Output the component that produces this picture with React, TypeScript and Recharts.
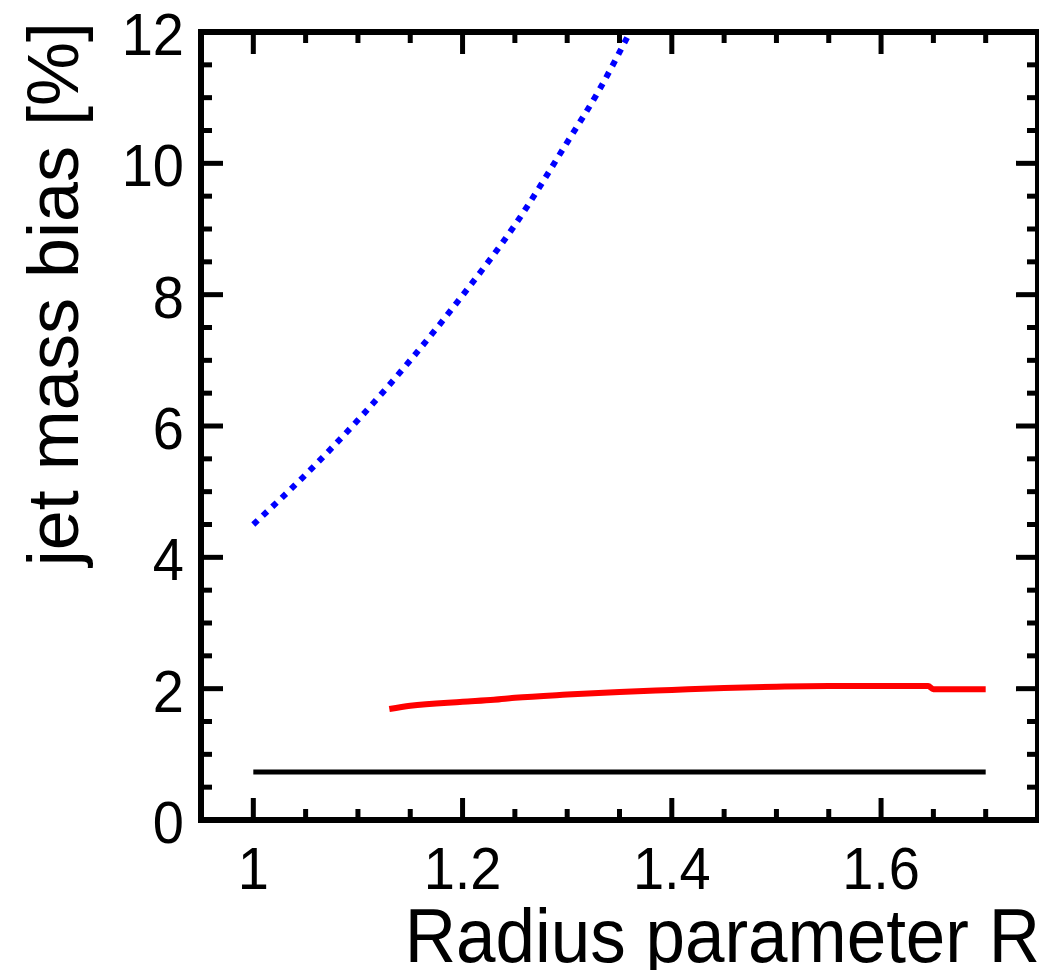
import React from 'react'
import { ComposedChart, Line, XAxis, YAxis } from 'recharts'

// Radius parameter R vs jet mass bias [%]
const blueR = [1.0, 1.05, 1.1, 1.15, 1.2, 1.25, 1.3, 1.33, 1.36]
const blueBias = [4.5, 5.26, 6.09, 7.0, 7.99, 9.06, 10.32, 11.1, 12.0]

const redR = [1.13, 1.15, 1.2, 1.23, 1.25, 1.3, 1.35, 1.4, 1.45, 1.5, 1.55, 1.6, 1.645, 1.65, 1.7]
const redBias = [1.69, 1.74, 1.8, 1.83, 1.86, 1.91, 1.95, 1.98, 2.01, 2.03, 2.04, 2.04, 2.04, 1.99, 1.99]

const blackR = [1.0, 1.7]
const blackBias = [0.73, 0.73]

const xTicks = [1, 1.05, 1.1, 1.15, 1.2, 1.25, 1.3, 1.35, 1.4, 1.45, 1.5, 1.55, 1.6, 1.65, 1.7]
const xMajor = [1, 1.2, 1.4, 1.6]
const yTicks = [0, 0.5, 1, 1.5, 2, 2.5, 3, 3.5, 4, 4.5, 5, 5.5, 6, 6.5, 7, 7.5, 8, 8.5, 9, 9.5, 10, 10.5, 11, 11.5, 12]
const yMajor = [0, 2, 4, 6, 8, 10, 12]

const toRows = (xs: number[], ys: number[]) => xs.map((r, i) => ({ r, v: ys[i] }))
const blueData = toRows(blueR, blueBias)
const redData = toRows(redR, redBias)
const blackData = toRows(blackR, blackBias)

const FONT = '"Liberation Sans", Arial, Helvetica, sans-serif'
const MAJOR = 22
const MINOR = 11
const TICK_W = 5

const isMajor = (list: number[], v: number) => list.some((m) => Math.abs(m - v) < 1e-6)

function BottomTick({ x, y, payload }: any) {
    const major = isMajor(xMajor, payload.value)
    return (
        <g>
            <line x1={x} x2={x} y1={y} y2={y - (major ? MAJOR : MINOR)} stroke="#000" strokeWidth={TICK_W} />
            {major && (
                <text
                    transform={`translate(${x}, ${y + 69}) scale(1, 1.07)`}
                    textAnchor="middle"
                    fontSize={56}
                    fontFamily={FONT}
                    fill="#000"
                >
                    {String(payload.value)}
                </text>
            )}
        </g>
    )
}

function TopTick({ x, y, payload }: any) {
    const major = isMajor(xMajor, payload.value)
    return <line x1={x} x2={x} y1={y} y2={y + (major ? MAJOR : MINOR)} stroke="#000" strokeWidth={TICK_W} />
}

function LeftTick({ x, y, payload }: any) {
    const major = isMajor(yMajor, payload.value)
    return (
        <g>
            <line x1={x} x2={x + (major ? MAJOR : MINOR)} y1={y} y2={y} stroke="#000" strokeWidth={TICK_W} />
            {major && (
                <text
                    transform={`translate(${x - 17}, ${y + 23}) scale(1, 1.07)`}
                    textAnchor="end"
                    fontSize={56}
                    fontFamily={FONT}
                    fill="#000"
                >
                    {String(payload.value)}
                </text>
            )}
        </g>
    )
}

function RightTick({ x, y, payload }: any) {
    const major = isMajor(yMajor, payload.value)
    return <line x1={x} x2={x - (major ? MAJOR : MINOR)} y1={y} y2={y} stroke="#000" strokeWidth={TICK_W} />
}

const frame = { stroke: '#000', strokeWidth: 6, strokeLinecap: 'square' as const }

export default function App() {
    // pull the chart into the page corner so it spans the full 1047x978 view
    return (
        <div style={{ width: 1047, height: 978, margin: -8 }}>
            <ComposedChart width={1047} height={978} margin={{ top: 0, right: 0, left: 0, bottom: 0 }}>
                <XAxis
                    xAxisId="b"
                    type="number"
                    dataKey="r"
                    domain={[0.95, 1.75]}
                    allowDataOverflow
                    ticks={xTicks}
                    interval={0}
                    height={158}
                    tickSize={0}
                    tickMargin={0}
                    tickLine={false}
                    axisLine={frame}
                    tick={(p: any) => <BottomTick {...p} />}
                />
                <XAxis
                    xAxisId="t"
                    orientation="top"
                    type="number"
                    dataKey="r"
                    domain={[0.95, 1.75]}
                    allowDataOverflow
                    ticks={xTicks}
                    interval={0}
                    height={32}
                    tickSize={0}
                    tickMargin={0}
                    tickLine={false}
                    axisLine={frame}
                    tick={(p: any) => <TopTick {...p} />}
                />
                <YAxis
                    yAxisId="l"
                    type="number"
                    domain={[0, 12]}
                    allowDataOverflow
                    ticks={yTicks}
                    interval={0}
                    width={201}
                    tickSize={0}
                    tickMargin={0}
                    tickLine={false}
                    axisLine={frame}
                    tick={(p: any) => <LeftTick {...p} />}
                />
                <YAxis
                    yAxisId="r"
                    orientation="right"
                    type="number"
                    domain={[0, 12]}
                    allowDataOverflow
                    ticks={yTicks}
                    interval={0}
                    width={9}
                    tickSize={0}
                    tickMargin={0}
                    tickLine={false}
                    axisLine={frame}
                    tick={(p: any) => <RightTick {...p} />}
                />
                <Line
                    xAxisId="b"
                    yAxisId="l"
                    data={blackData}
                    dataKey="v"
                    type="linear"
                    stroke="#000000"
                    strokeWidth={5}
                    dot={false}
                    activeDot={false}
                    isAnimationActive={false}
                />
                <Line
                    xAxisId="b"
                    yAxisId="l"
                    data={redData}
                    dataKey="v"
                    type="monotone"
                    stroke="#ff0000"
                    strokeWidth={6}
                    dot={false}
                    activeDot={false}
                    isAnimationActive={false}
                />
                <Line
                    xAxisId="b"
                    yAxisId="l"
                    data={blueData}
                    dataKey="v"
                    type="monotone"
                    stroke="#0000ff"
                    strokeWidth={6}
                    strokeDasharray="6 7"
                    dot={false}
                    activeDot={false}
                    isAnimationActive={false}
                />
                <text
                    transform="translate(1040, 962) scale(1, 1.06)"
                    textAnchor="end"
                    fontSize={71}
                    fontFamily={FONT}
                    fill="#000"
                >
                    Radius parameter R
                </text>
                <text
                    transform="translate(78, 22) rotate(-90)"
                    textAnchor="end"
                    fontSize={72}
                    fontFamily={FONT}
                    fill="#000"
                >
                    jet mass bias [%]
                </text>
            </ComposedChart>
        </div>
    )
}
